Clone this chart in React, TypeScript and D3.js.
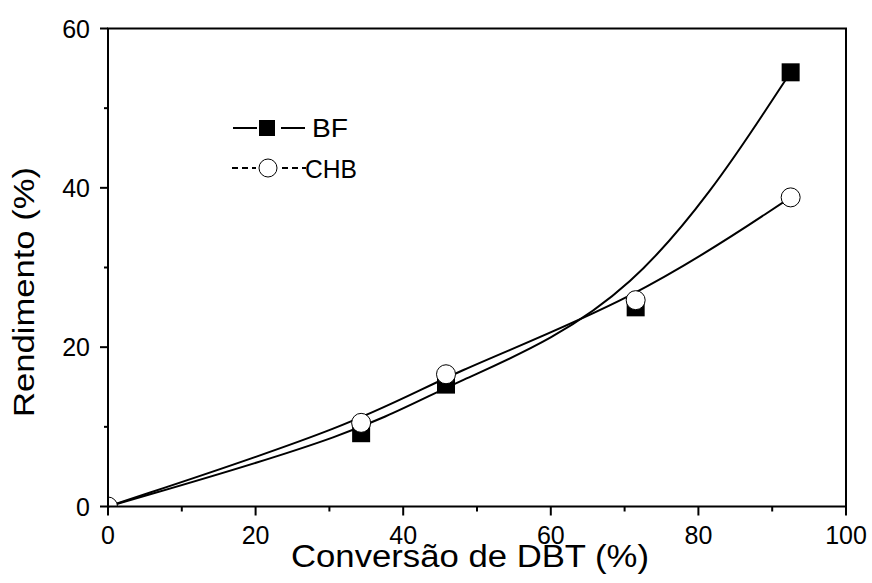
import React from "react";
import * as d3 from "d3";

const conversion = [0, 34.3, 45.8, 71.5, 92.5];
const bfValues = [0, 9.2, 15.3, 25.0, 54.5];
const chbValues = [0, 10.5, 16.6, 25.9, 38.8];
const xMajorTicks = [0, 20, 40, 60, 80, 100];
const xMinorTicks = [10, 30, 50, 70, 90];
const yMajorTicks = [0, 20, 40, 60];
const yMinorTicks = [10, 30, 50];
const seriesNames = ["BF", "CHB"];

const W = 872;
const H = 583;
const L = 108, R = 846, T = 28.5, B = 506.5;
const FONT = "'Liberation Sans', Arial, sans-serif";

export default function App() {
  const x = d3.scaleLinear().domain([0, 100]).range([L, R]);
  const y = d3.scaleLinear().domain([0, 60]).range([B, T]);
  const line = d3
    .line<number>()
    .x((_, i) => x(conversion[i]))
    .y((d) => y(d))
    .curve(d3.curveBasis);

  const bfPath = line(bfValues) || "";
  const chbPath = line(chbValues) || "";

  return (
    <svg width={W} height={H} style={{ position: "absolute", left: 0, top: 0, background: "#fff" }}>
      <defs>
        <clipPath id="plot">
          <rect x={L} y={T} width={R - L} height={B - T} />
        </clipPath>
      </defs>
      <rect x={0} y={0} width={W} height={H} fill="#fff" />
      {/* curves */}
      <path d={bfPath} fill="none" stroke="#000" strokeWidth={2} />
      <path d={chbPath} fill="none" stroke="#000" strokeWidth={2} />
      {/* markers */}
      <g clipPath="url(#plot)">
        {bfValues.map((v, i) =>
          conversion[i] > 0 ? (
            <rect key={"b" + i} x={x(conversion[i]) - 9} y={y(v) - 9} width={18} height={18} fill="#000" />
          ) : null
        )}
        {chbValues.map((v, i) => (
          <circle key={"c" + i} cx={x(conversion[i])} cy={y(v)} r={9.5} fill="#fff" stroke="#000" strokeWidth={1} />
        ))}
      </g>
      {/* frame */}
      <rect x={L} y={T} width={R - L} height={B - T} fill="none" stroke="#000" strokeWidth={2} />
      {/* x ticks */}
      {xMajorTicks.map((t) => (
        <g key={"xt" + t}>
          <line x1={x(t)} x2={x(t)} y1={B} y2={B + 9} stroke="#000" strokeWidth={2} />
          <text x={x(t)} y={544} textAnchor="middle" fontFamily={FONT} fontSize={25} fill="#000">
            {t}
          </text>
        </g>
      ))}
      {xMinorTicks.map((t) => (
        <line key={"xm" + t} x1={x(t)} x2={x(t)} y1={B} y2={B + 5} stroke="#000" strokeWidth={2} />
      ))}
      {/* y ticks */}
      {yMajorTicks.map((t) => (
        <g key={"yt" + t}>
          <line x1={L - 8} x2={L} y1={y(t)} y2={y(t)} stroke="#000" strokeWidth={2} />
          <text x={90} y={y(t) + 9} textAnchor="end" fontFamily={FONT} fontSize={25} fill="#000">
            {t}
          </text>
        </g>
      ))}
      {yMinorTicks.map((t) => (
        <line key={"ym" + t} x1={L - 4} x2={L} y1={y(t)} y2={y(t)} stroke="#000" strokeWidth={2} />
      ))}
      {/* axis titles */}
      <text x={470} y={567} textAnchor="middle" fontFamily={FONT} fontSize={31} textLength={358} lengthAdjust="spacingAndGlyphs" fill="#000">
        Conversão de DBT (%)
      </text>
      <text
        transform={`translate(34,292) rotate(-90)`}
        textAnchor="middle"
        fontFamily={FONT}
        fontSize={30}
        textLength={250}
        lengthAdjust="spacingAndGlyphs"
        fill="#000"
      >
        Rendimento (%)
      </text>
      {/* legend */}
      <g>
        <line x1={233} x2={257} y1={128} y2={128} stroke="#000" strokeWidth={2} />
        <rect x={259} y={120} width={16} height={16} fill="#000" />
        <line x1={281} x2={305} y1={128} y2={128} stroke="#000" strokeWidth={2} />
        <text x={312} y={137} fontFamily={FONT} fontSize={25} textLength={36} lengthAdjust="spacingAndGlyphs" fill="#000">
          {seriesNames[0]}
        </text>
        <line x1={232} x2={256} y1={168} y2={168} stroke="#000" strokeWidth={2} strokeDasharray="6 4" />
        <circle cx={268} cy={168} r={9} fill="#fff" stroke="#000" strokeWidth={1} />
        <line x1={282} x2={306} y1={168} y2={168} stroke="#000" strokeWidth={2} strokeDasharray="6 4" />
        <text x={305} y={178} fontFamily={FONT} fontSize={25} textLength={52} lengthAdjust="spacingAndGlyphs" fill="#000">
          {seriesNames[1]}
        </text>
      </g>
    </svg>
  );
}
